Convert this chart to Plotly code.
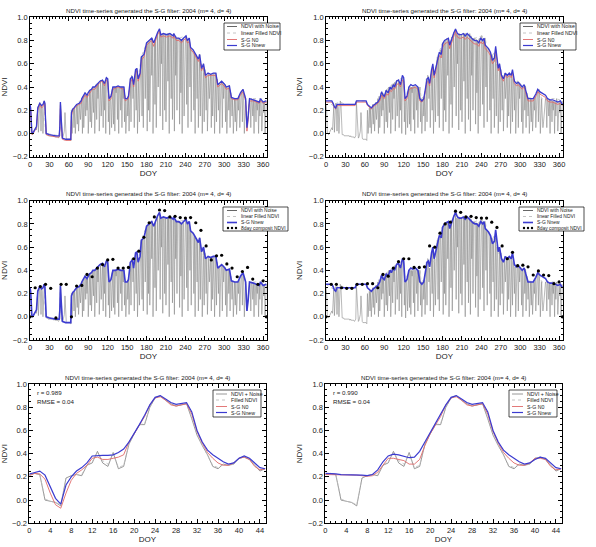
import plotly.graph_objects as go

W, H = 596, 547
TITLE = "NDVI time-series generated the S-G filter: 2004 (m= 4, d= 4)"

# ---------------- data ----------------
# daily NDVI with noise (DOY 0..365)
NOISE = [
    0.25, 0.20, 0.00, 0.00, -0.01, 0.00, 0.01, 0.02, 0.03, 0.05,
    0.03, 0.20, 0.23, 0.01, 0.24, 0.26, 0.24, 0.02, 0.24, 0.22,
    0.00, 0.24, 0.28, 0.26, 0.00, -0.01, -0.01, -0.01, -0.02, -0.02,
    -0.02, -0.02, -0.02, -0.02, -0.02, -0.02, -0.02, -0.03, -0.02, -0.03,
    -0.03, -0.03, -0.03, -0.03, -0.04, -0.03, -0.02, 0.27, 0.12, -0.04,
    -0.04, -0.03, 0.00, 0.02, 0.18, 0.03, -0.04, -0.05, -0.05, -0.05,
    -0.05, -0.05, -0.05, -0.06, 0.20, 0.00, 0.21, 0.22, 0.05, 0.22,
    0.00, 0.23, 0.25, 0.08, 0.25, 0.02, 0.26, 0.27, 0.12, 0.28,
    0.30, 0.00, 0.32, 0.05, 0.34, 0.35, 0.15, 0.33, 0.20, 0.34,
    0.00, 0.36, 0.37, 0.10, 0.38, 0.05, 0.39, 0.40, 0.18, 0.40,
    0.00, 0.41, 0.42, 0.12, 0.43, 0.30, 0.44, 0.02, 0.45, 0.46,
    0.15, 0.46, 0.46, 0.05, 0.44, 0.20, 0.44, 0.00, 0.48, 0.47,
    0.47, 0.10, 0.30, -0.01, 0.31, 0.32, 0.05, 0.38, 0.40, 0.08,
    0.40, 0.02, 0.40, 0.35, 0.40, 0.12, 0.41, 0.00, 0.40, 0.40,
    0.20, 0.40, 0.05, 0.40, 0.30, 0.40, 0.10, 0.30, 0.00, 0.30,
    0.30, 0.15, 0.32, 0.02, 0.40, 0.47, 0.10, 0.50, 0.48, 0.30,
    0.42, 0.05, 0.50, 0.55, 0.20, 0.56, 0.00, 0.47, 0.50, 0.10,
    0.52, 0.60, 0.66, 0.15, 0.67, 0.05, 0.68, 0.72, 0.30, 0.76,
    0.78, 0.02, 0.79, 0.20, 0.80, 0.10, 0.81, 0.82, 0.50, 0.82,
    0.00, 0.78, 0.80, 0.25, 0.83, 0.05, 0.85, 0.87, 0.40, 0.89,
    0.90, 0.15, 0.85, 0.60, 0.86, 0.03, 0.86, 0.85, 0.20, 0.85,
    0.10, 0.85, 0.86, 0.45, 0.86, 0.00, 0.86, 0.85, 0.30, 0.85,
    0.12, 0.84, 0.86, 0.02, 0.84, 0.50, 0.82, 0.20, 0.82, 0.81,
    0.82, 0.08, 0.81, 0.35, 0.80, 0.00, 0.81, 0.82, 0.15, 0.83,
    0.84, 0.84, 0.25, 0.80, 0.05, 0.82, 0.82, 0.40, 0.74, 0.10,
    0.73, 0.72, 0.72, 0.20, 0.70, 0.00, 0.68, 0.67, 0.30, 0.65,
    0.05, 0.64, 0.68, 0.15, 0.60, 0.56, 0.00, 0.58, 0.60, 0.10,
    0.55, 0.50, 0.20, 0.50, 0.02, 0.52, 0.52, 0.30, 0.51, 0.51,
    0.05, 0.51, 0.15, 0.52, 0.52, 0.00, 0.52, 0.52, 0.10, 0.47,
    0.42, 0.20, 0.43, 0.00, 0.44, 0.45, 0.45, 0.05, 0.44, 0.30,
    0.43, 0.42, 0.10, 0.40, 0.00, 0.40, 0.41, 0.20, 0.41, 0.05,
    0.35, 0.31, 0.15, 0.30, 0.00, 0.30, 0.30, 0.10, 0.30, 0.02,
    0.30, 0.30, 0.20, 0.32, 0.05, 0.35, 0.36, 0.37, 0.10, 0.38,
    0.30, 0.00, 0.30, 0.30, 0.15, 0.05, 0.10, 0.15, 0.20, 0.30,
    0.28, 0.05, 0.30, 0.29, 0.15, 0.29, 0.00, 0.29, 0.28, 0.10,
    0.28, 0.20, 0.28, 0.00, 0.27, 0.15, 0.30, 0.28, 0.02, 0.27,
    0.27, 0.18, 0.28, 0.00, 0.28, 0.28,
]
NOISE_DOY = list(range(366))

# S-G Nnew, left version
SGNEW_L_DOY = [0, 1, 3, 5, 8, 10, 12, 15, 18, 20, 22, 23, 25, 30, 40, 45, 46, 47, 48, 50,
               55, 63, 64, 66, 68, 72, 76, 79, 80, 82, 85, 88, 92, 95, 97, 100, 104, 108, 112, 115,
               118, 120, 122, 125, 128, 132, 136, 140, 145, 147, 150, 152, 155, 158, 160, 163, 165, 167, 170, 172,
               176, 180, 184, 188, 191, 194, 197, 200, 202, 206, 211, 216, 221, 222, 226, 230, 234, 237, 241, 243,
               246, 248, 252, 257, 260, 262, 265, 268, 271, 275, 279, 283, 287, 290, 296, 301, 303, 308, 311, 316,
               321, 325, 327, 329, 333, 335, 337, 339, 345, 350, 354, 356, 360, 365]
SGNEW_L = [0.25, 0.22, 0.00, 0.01, 0.04, 0.06, 0.22, 0.26, 0.24, 0.25, 0.28, 0.26, 0.00, -0.01, -0.02, -0.02, 0.05, 0.27, 0.15, -0.04,
           -0.05, -0.05, 0.18, 0.21, 0.22, 0.25, 0.26, 0.28, 0.30, 0.32, 0.35, 0.33, 0.37, 0.38, 0.40, 0.40, 0.43, 0.45, 0.46, 0.43,
           0.48, 0.47, 0.30, 0.32, 0.40, 0.40, 0.41, 0.40, 0.40, 0.30, 0.30, 0.32, 0.47, 0.49, 0.42, 0.55, 0.56, 0.47, 0.52, 0.66,
           0.68, 0.78, 0.80, 0.82, 0.78, 0.83, 0.87, 0.90, 0.85, 0.86, 0.85, 0.86, 0.84, 0.86, 0.82, 0.82, 0.80, 0.82, 0.84, 0.80,
           0.82, 0.74, 0.72, 0.67, 0.64, 0.68, 0.56, 0.60, 0.50, 0.52, 0.51, 0.52, 0.52, 0.42, 0.45, 0.42, 0.40, 0.41, 0.31, 0.30,
           0.30, 0.35, 0.37, 0.38, 0.30, 0.05, 0.15, 0.30, 0.29, 0.28, 0.27, 0.30, 0.27, 0.28]
# S-G N0, left version
SGN0_L = [0.24, 0.20, -0.01, 0.00, 0.03, 0.05, 0.20, 0.25, 0.22, 0.23, 0.27, 0.25, -0.01, -0.02, -0.03, -0.03, 0.03, 0.24, 0.12, -0.05,
          -0.06, -0.06, 0.15, 0.20, 0.21, 0.24, 0.25, 0.26, 0.28, 0.30, 0.33, 0.31, 0.35, 0.37, 0.38, 0.38, 0.41, 0.44, 0.45, 0.41,
          0.46, 0.45, 0.28, 0.30, 0.38, 0.39, 0.40, 0.39, 0.38, 0.28, 0.29, 0.30, 0.44, 0.47, 0.40, 0.52, 0.54, 0.45, 0.50, 0.63,
          0.66, 0.76, 0.78, 0.80, 0.75, 0.81, 0.85, 0.88, 0.83, 0.84, 0.83, 0.84, 0.82, 0.84, 0.80, 0.80, 0.78, 0.80, 0.82, 0.78,
          0.79, 0.72, 0.70, 0.65, 0.62, 0.65, 0.54, 0.58, 0.48, 0.50, 0.50, 0.50, 0.50, 0.40, 0.43, 0.40, 0.38, 0.39, 0.30, 0.29,
          0.29, 0.33, 0.35, 0.36, 0.28, 0.02, 0.12, 0.28, 0.28, 0.27, 0.26, 0.28, 0.26, 0.27]

# S-G Nnew, right version
SGNEW_R_DOY = [0, 5, 9, 11, 13, 15, 17, 20, 30, 40, 45, 47, 52, 58, 62, 64, 67, 70, 73, 76,
               80, 83, 86, 88, 90, 93, 96, 99, 101, 104, 106, 109, 112, 115, 118, 120, 122, 125, 128, 131,
               134, 138, 142, 145, 148, 151, 154, 156, 158, 160, 163, 165, 167, 169, 172, 175, 178, 180, 183, 186,
               189, 191, 194, 197, 200, 203, 206, 209, 212, 215, 218, 221, 224, 227, 230, 233, 236, 239, 242, 244,
               246, 248, 251, 254, 257, 260, 262, 266, 268, 271, 274, 277, 280, 283, 286, 288, 291, 294, 297, 300,
               303, 306, 309, 312, 316, 320, 324, 327, 330, 333, 336, 339, 342, 346, 350, 354, 358, 362, 365]
SGNEW_R = [0.28, 0.28, 0.28, 0.26, 0.23, 0.22, 0.25, 0.25, 0.25, 0.25, 0.25, 0.28, 0.28, 0.28, 0.28, 0.25, 0.23, 0.22, 0.24, 0.25,
           0.27, 0.30, 0.36, 0.33, 0.32, 0.37, 0.35, 0.40, 0.38, 0.42, 0.40, 0.45, 0.46, 0.42, 0.50, 0.48, 0.30, 0.32, 0.40, 0.42,
           0.41, 0.42, 0.40, 0.30, 0.28, 0.30, 0.40, 0.47, 0.48, 0.43, 0.55, 0.60, 0.50, 0.55, 0.65, 0.70, 0.68, 0.77, 0.80, 0.81,
           0.82, 0.76, 0.82, 0.86, 0.90, 0.86, 0.85, 0.85, 0.86, 0.84, 0.86, 0.84, 0.82, 0.81, 0.80, 0.80, 0.78, 0.82, 0.80, 0.82,
           0.76, 0.75, 0.73, 0.70, 0.63, 0.65, 0.75, 0.56, 0.60, 0.50, 0.47, 0.52, 0.50, 0.52, 0.50, 0.55, 0.45, 0.43, 0.44, 0.42,
           0.40, 0.42, 0.35, 0.30, 0.30, 0.30, 0.34, 0.38, 0.36, 0.35, 0.34, 0.33, 0.30, 0.29, 0.29, 0.28, 0.27, 0.28, 0.25]
SGN0_R = [0.27, 0.27, 0.27, 0.25, 0.22, 0.21, 0.24, 0.24, 0.24, 0.24, 0.24, 0.27, 0.27, 0.27, 0.27, 0.24, 0.22, 0.21, 0.23, 0.24,
          0.26, 0.28, 0.33, 0.31, 0.30, 0.34, 0.33, 0.37, 0.36, 0.39, 0.38, 0.42, 0.43, 0.40, 0.46, 0.45, 0.28, 0.30, 0.37, 0.39,
          0.39, 0.40, 0.38, 0.28, 0.27, 0.29, 0.37, 0.44, 0.45, 0.41, 0.52, 0.57, 0.48, 0.52, 0.62, 0.67, 0.65, 0.74, 0.77, 0.78,
          0.79, 0.73, 0.79, 0.83, 0.88, 0.83, 0.82, 0.82, 0.83, 0.81, 0.83, 0.81, 0.79, 0.78, 0.77, 0.77, 0.75, 0.79, 0.77, 0.79,
          0.73, 0.72, 0.70, 0.67, 0.60, 0.62, 0.72, 0.54, 0.57, 0.48, 0.45, 0.50, 0.48, 0.50, 0.48, 0.52, 0.43, 0.41, 0.42, 0.40,
          0.38, 0.40, 0.33, 0.28, 0.28, 0.28, 0.32, 0.36, 0.34, 0.33, 0.32, 0.31, 0.28, 0.27, 0.27, 0.26, 0.25, 0.26, 0.24]

# linear filled NDVI
FILLED_L_DOY = [0, 2, 10, 12, 15, 22, 24, 46, 47, 49, 63, 64, 72, 80, 92, 104, 112, 118, 120, 122,
                128, 145, 147, 152, 157, 160, 165, 167, 172, 180, 188, 191, 200, 202, 216, 230, 241, 243, 246, 248,
                257, 262, 265, 271, 287, 290, 296, 303, 308, 311, 321, 329, 333, 335, 339, 356, 365]
FILLED_L = [0.25, 0.00, 0.05, 0.23, 0.26, 0.28, 0.00, -0.02, 0.27, -0.04, -0.06, 0.20, 0.25, 0.30, 0.37, 0.43, 0.46, 0.48, 0.47, 0.30,
            0.40, 0.40, 0.30, 0.32, 0.50, 0.42, 0.56, 0.47, 0.66, 0.78, 0.82, 0.78, 0.90, 0.85, 0.86, 0.82, 0.84, 0.80, 0.82, 0.74,
            0.67, 0.68, 0.56, 0.50, 0.52, 0.42, 0.45, 0.40, 0.41, 0.31, 0.30, 0.38, 0.30, 0.05, 0.30, 0.30, 0.28]
FILLED_R_DOY = [0, 11, 14, 16, 22, 30, 46, 47, 62, 64, 70, 80, 92, 104, 112, 118, 120, 122, 128, 145,
                147, 152, 157, 160, 165, 167, 172, 180, 188, 191, 200, 202, 216, 230, 241, 243, 246, 248, 257, 262,
                265, 271, 287, 290, 296, 303, 308, 311, 321, 329, 333, 339, 356, 365]
FILLED_R = [0.28, 0.24, 0.24, 0.26, 0.27, 0.25, 0.25, 0.28, 0.28, 0.25, 0.22, 0.28, 0.37, 0.43, 0.46, 0.48, 0.47, 0.30, 0.40, 0.40,
            0.30, 0.32, 0.50, 0.42, 0.56, 0.47, 0.66, 0.78, 0.82, 0.78, 0.90, 0.85, 0.86, 0.82, 0.84, 0.80, 0.82, 0.74, 0.67, 0.72,
            0.56, 0.50, 0.52, 0.42, 0.45, 0.40, 0.41, 0.31, 0.30, 0.38, 0.30, 0.30, 0.30, 0.28]

# 8-day composite NDVI
COMP_DOY = [0, 8, 16, 24, 32, 40, 48, 56, 64, 72, 80, 88, 96, 104, 112, 120, 128, 136, 144, 152,
            160, 168, 176, 184, 192, 200, 208, 216, 224, 232, 240, 248, 256, 264, 272, 280, 288, 296, 304, 312,
            320, 328, 336, 344, 352, 360, 365]
COMP_L = [0.00, 0.25, 0.26, 0.28, 0.245, -0.01, 0.28, 0.28, 0.00, 0.265, 0.27, 0.365, 0.345, 0.42, 0.45, 0.49, 0.495, 0.42, 0.42, 0.425,
          0.50, 0.565, 0.685, 0.81, 0.86, 0.92, 0.915, 0.86, 0.865, 0.855, 0.85, 0.855, 0.81, 0.745, 0.61, 0.49, 0.525, 0.53, 0.455, 0.42,
          0.345, 0.39, 0.425, 0.325, 0.28, 0.31, 0.00]
COMP_R = [0.00, 0.28, 0.28, 0.25, 0.245, 0.245, 0.28, 0.28, 0.285, 0.285, 0.25, 0.365, 0.35, 0.42, 0.475, 0.50, 0.50, 0.425, 0.425, 0.43,
          0.61, 0.60, 0.72, 0.80, 0.815, 0.91, 0.90, 0.86, 0.865, 0.855, 0.85, 0.85, 0.815, 0.77, 0.61, 0.50, 0.555, 0.44, 0.445, 0.43,
          0.36, 0.395, 0.36, 0.355, 0.285, 0.30, 0.00]

# composite-period series (bottom row)
PERIOD = list(range(46))
B_NOISE = [0.22, 0.23, 0.22, 0.00, -0.01, -0.02, -0.05, 0.19, 0.21, 0.22, 0.21, 0.30, 0.32, 0.42, 0.32, 0.29, 0.41, 0.27, 0.29, 0.48,
           0.57, 0.65, 0.65, 0.80, 0.88, 0.90, 0.86, 0.83, 0.81, 0.82, 0.83, 0.70, 0.56, 0.47, 0.39, 0.29, 0.27, 0.31, 0.30, 0.31,
           0.36, 0.37, 0.35, 0.30, 0.25, 0.27]
B_FILLED = [0.22, 0.23, 0.22, 0.01, -0.01, -0.02, -0.04, 0.19, 0.21, 0.22, 0.22, 0.30, 0.33, 0.41, 0.34, 0.31, 0.40, 0.28, 0.30, 0.48,
            0.57, 0.65, 0.66, 0.80, 0.88, 0.90, 0.86, 0.83, 0.81, 0.82, 0.83, 0.71, 0.57, 0.47, 0.39, 0.30, 0.28, 0.31, 0.30, 0.31,
            0.36, 0.37, 0.35, 0.30, 0.26, 0.27]
B_SGN0_L = [0.21, 0.23, 0.225, 0.18, 0.06, -0.04, -0.07, 0.06, 0.17, 0.23, 0.26, 0.30, 0.36, 0.37, 0.35, 0.35, 0.36, 0.37, 0.39, 0.50,
            0.57, 0.64, 0.72, 0.82, 0.88, 0.89, 0.86, 0.82, 0.81, 0.82, 0.83, 0.74, 0.59, 0.49, 0.41, 0.36, 0.32, 0.30, 0.30, 0.32,
            0.36, 0.37, 0.35, 0.29, 0.26, 0.27]
B_SGNEW_L = [0.225, 0.24, 0.25, 0.215, 0.115, 0.015, -0.035, 0.13, 0.20, 0.25, 0.28, 0.32, 0.38, 0.385, 0.385, 0.385, 0.39, 0.41, 0.44, 0.50,
             0.57, 0.65, 0.73, 0.82, 0.885, 0.90, 0.87, 0.84, 0.825, 0.835, 0.84, 0.76, 0.60, 0.50, 0.43, 0.39, 0.36, 0.33, 0.31, 0.32,
             0.36, 0.38, 0.36, 0.32, 0.28, 0.27]
B_SGN0_R = [0.22, 0.22, 0.22, 0.215, 0.215, 0.215, 0.215, 0.21, 0.205, 0.21, 0.24, 0.30, 0.36, 0.36, 0.35, 0.34, 0.31, 0.31, 0.35, 0.47,
            0.57, 0.64, 0.72, 0.82, 0.88, 0.89, 0.86, 0.82, 0.81, 0.82, 0.83, 0.74, 0.59, 0.49, 0.41, 0.36, 0.32, 0.30, 0.30, 0.32,
            0.36, 0.36, 0.35, 0.29, 0.26, 0.27]
B_SGNEW_R = [0.23, 0.23, 0.225, 0.22, 0.22, 0.22, 0.22, 0.215, 0.21, 0.22, 0.26, 0.33, 0.38, 0.395, 0.39, 0.375, 0.365, 0.37, 0.42, 0.50,
             0.58, 0.66, 0.74, 0.82, 0.885, 0.90, 0.87, 0.84, 0.825, 0.835, 0.84, 0.76, 0.60, 0.50, 0.43, 0.39, 0.36, 0.33, 0.31, 0.32,
             0.35, 0.37, 0.36, 0.32, 0.28, 0.27]

STATS_L = ["r = 0.989", "RMSE = 0.04"]
STATS_R = ["r = 0.990", "RMSE = 0.04"]

# ---------------- styling ----------------
FONT = "Liberation Sans, Arial, sans-serif"
TXT = "#1a1a1a"
C_NOISE = "#8a8a8a"
C_FILL = "#bdbdbd"
C_RED = "#e06a6a"
C_BLUE = "#3b3bd0"


def px(x):
    return x / W


def py(y):
    return 1 - y / H


# plot boxes in pixels (x0, x1, ytop, ybottom)
BOXES = [
    (30, 267, 17.3, 156.7), (326, 563, 17.3, 156.7),
    (30, 267, 200.7, 340.0), (326, 563, 200.7, 340.0),
    (29.3, 265.7, 384.0, 523.3), (325.3, 561.7, 384.0, 523.3),
]

fig = go.Figure()
layout = dict(
    template="none",
    width=W, height=H, margin=dict(l=0, r=0, t=0, b=0, pad=0),
    paper_bgcolor="white", plot_bgcolor="white",
    showlegend=False, font=dict(family=FONT, color=TXT),
)
annotations = []
shapes = []

for i, (x0, x1, yt, yb) in enumerate(BOXES):
    n = i + 1
    xs = "x" if n == 1 else f"x{n}"
    ys = "y" if n == 1 else f"y{n}"
    bottom = i >= 4
    layout["xaxis" if n == 1 else f"xaxis{n}"] = dict(
        domain=[px(x0), px(x1)], anchor=ys,
        range=[0, 45.1] if bottom else [0, 366],
        tick0=0, dtick=4 if bottom else 30,
        showline=True, linecolor="black", linewidth=0.8, mirror="ticks",
        ticks="inside", ticklen=4, tickwidth=0.6, tickcolor="black",
        minor=dict(ticks="inside", ticklen=2, tickwidth=0.5, tickcolor="black",
                   dtick=1 if bottom else 5, showgrid=False),
        showgrid=False, zeroline=False,
        tickfont=dict(size=7.5, family=FONT, color=TXT),
        title=dict(text="DOY", font=dict(size=8, family=FONT, color=TXT), standoff=0),
    )
    layout["yaxis" if n == 1 else f"yaxis{n}"] = dict(
        domain=[py(yb), py(yt)], anchor=xs,
        range=[-0.2, 1.0], tick0=-0.2, dtick=0.2, tickformat=".1f",
        showline=True, linecolor="black", linewidth=0.8, mirror="ticks",
        ticks="inside", ticklen=4, tickwidth=0.6, tickcolor="black",
        minor=dict(ticks="inside", ticklen=2, tickwidth=0.5, tickcolor="black", dtick=0.05,
                   showgrid=False),
        showgrid=False, zeroline=False,
        tickfont=dict(size=7.5, family=FONT, color=TXT),
        title=dict(text="NDVI", font=dict(size=8, family=FONT, color=TXT), standoff=4),
    )
    annotations.append(dict(
        text=TITLE, x=px((x0 + x1) / 2), y=py(yt - 7), xref="paper", yref="paper",
        showarrow=False, xanchor="center", yanchor="middle",
        font=dict(size=6.2, family=FONT, color=TXT),
    ))


def line(x, y, n, color, width, dash="solid"):
    fig.add_trace(go.Scatter(
        x=x, y=y, mode="lines", line=dict(color=color, width=width, dash=dash),
        xaxis="x" if n == 1 else f"x{n}", yaxis="y" if n == 1 else f"y{n}",
        hoverinfo="skip"))


def dots(x, y, n):
    fig.add_trace(go.Scatter(
        x=x, y=y, mode="markers", marker=dict(color="black", size=3.2),
        xaxis=f"x{n}", yaxis=f"y{n}", hoverinfo="skip"))


# top row
line(NOISE_DOY, NOISE, 1, C_NOISE, 0.6)
line(FILLED_L_DOY, FILLED_L, 1, C_FILL, 0.8, "dot")
line(SGNEW_L_DOY, SGN0_L, 1, C_RED, 0.9)
line(SGNEW_L_DOY, SGNEW_L, 1, C_BLUE, 1.3)
line(NOISE_DOY, NOISE, 2, C_NOISE, 0.6)
line(FILLED_R_DOY, FILLED_R, 2, C_FILL, 0.8, "dot")
line(SGNEW_R_DOY, SGN0_R, 2, C_RED, 0.9)
line(SGNEW_R_DOY, SGNEW_R, 2, C_BLUE, 1.3)
# middle row
line(NOISE_DOY, NOISE, 3, C_NOISE, 0.6)
line(FILLED_L_DOY, FILLED_L, 3, C_FILL, 0.8, "dot")
line(SGNEW_L_DOY, SGNEW_L, 3, C_BLUE, 1.6)
dots(COMP_DOY, COMP_L, 3)
line(NOISE_DOY, NOISE, 4, C_NOISE, 0.6)
line(FILLED_R_DOY, FILLED_R, 4, C_FILL, 0.8, "dot")
line(SGNEW_R_DOY, SGNEW_R, 4, C_BLUE, 1.6)
dots(COMP_DOY, COMP_R, 4)
# bottom row
line(PERIOD, B_NOISE, 5, "#8c8c8c", 0.9)
line(PERIOD, B_FILLED, 5, C_FILL, 0.8, "dot")
line(PERIOD, B_SGN0_L, 5, C_RED, 0.9)
line(PERIOD, B_SGNEW_L, 5, C_BLUE, 1.2)
line(PERIOD, B_NOISE, 6, "#8c8c8c", 0.9)
line(PERIOD, B_FILLED, 6, C_FILL, 0.8, "dot")
line(PERIOD, B_SGN0_R, 6, C_RED, 0.9)
line(PERIOD, B_SGNEW_R, 6, C_BLUE, 1.2)


# ---------------- custom legends ----------------
def legend(box, rows, lx0, lx1, tx, fsize):
    bx0, bx1, by0, by1 = box
    shapes.append(dict(type="rect", xref="paper", yref="paper",
                       x0=px(bx0), x1=px(bx1), y0=py(by1), y1=py(by0),
                       line=dict(color="black", width=0.7), fillcolor="white", layer="above"))
    for yy, label, kind in rows:
        if kind == "dots":
            for xx in (lx0 + 1, (lx0 + lx1) / 2, lx1 - 1):
                shapes.append(dict(type="circle", xref="paper", yref="paper",
                                   x0=px(xx - 1.2), x1=px(xx + 1.2), y0=py(yy + 1.2), y1=py(yy - 1.2),
                                   fillcolor="black", line=dict(width=0), layer="above"))
        else:
            color, width, dash = kind
            shapes.append(dict(type="line", xref="paper", yref="paper",
                               x0=px(lx0), x1=px(lx1), y0=py(yy), y1=py(yy),
                               line=dict(color=color, width=width, dash=dash), layer="above"))
        annotations.append(dict(text=label, x=px(tx), y=py(yy), xref="paper", yref="paper",
                                showarrow=False, xanchor="left", yanchor="middle",
                                font=dict(size=fsize, family=FONT, color=TXT)))


for off in (0, 296):
    legend((224 + off, 280 + off, 23, 50), [
        (26.5, "NDVI with Noise", ("#555555", 0.9, "solid")),
        (33, "linear Filled NDVI", (C_FILL, 0.9, "dot")),
        (39.5, "S-G N0", (C_RED, 0.9, "solid")),
        (45.5, "S-G Nnew", (C_BLUE, 1.2, "solid")),
    ], 227 + off, 237 + off, 239 + off, 5.2)
    legend((223 + off, 288 + off, 207, 231), [
        (210.5, "NDVI with Noise", ("#555555", 0.9, "solid")),
        (216.5, "linear Filled NDVI", (C_FILL, 0.9, "dot")),
        (222.5, "S-G Nnew", (C_BLUE, 1.6, "solid")),
        (228, "8day composit NDVI", "dots"),
    ], 227 + off, 237 + off, 239 + off, 4.9)
    legend((213 + off, 261 + off, 390, 417), [
        (394, "NDVI + Noise", ("#8c8c8c", 0.9, "solid")),
        (400, "Filled NDVI", (C_FILL, 0.9, "dot")),
        (406.5, "S-G N0", (C_RED, 0.9, "solid")),
        (412.5, "S-G Nnew", (C_BLUE, 1.2, "solid")),
    ], 216 + off, 227 + off, 229 + off, 5.2)

for off, stats in ((0, STATS_L), (296, STATS_R)):
    annotations.append(dict(text=stats[0], x=px(35 + off), y=py(392.5), xref="paper", yref="paper",
                            showarrow=False, xanchor="left", yanchor="middle",
                            font=dict(size=6.2, family=FONT, color=TXT)))
    annotations.append(dict(text=stats[1], x=px(35 + off), y=py(401), xref="paper", yref="paper",
                            showarrow=False, xanchor="left", yanchor="middle",
                            font=dict(size=6.2, family=FONT, color=TXT)))

layout["annotations"] = annotations
layout["shapes"] = shapes
fig.update_layout(**layout)
fig.write_html("out.html", config={"displayModeBar": False},
               post_script="document.body.style.margin='0';")
